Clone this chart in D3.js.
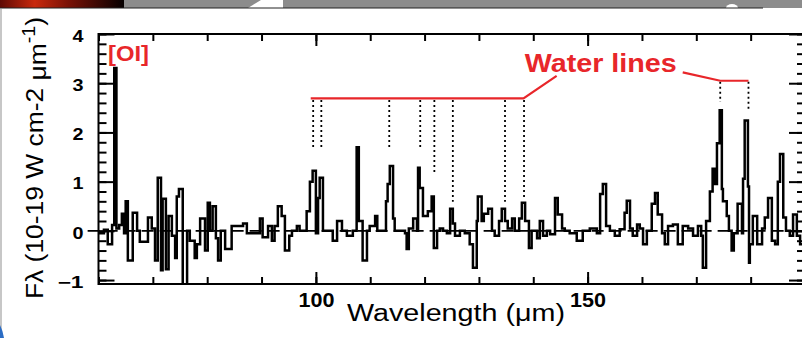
<!DOCTYPE html>
<html><head><meta charset="utf-8">
<script src="https://cdn.jsdelivr.net/npm/d3@7"></script>
<style>html,body{margin:0;padding:0;background:#fff;overflow:hidden}</style>
</head><body><svg id="c" width="802" height="338"></svg>
<script>
// ---------- data ----------
const xDomain = [60, 190];
const yDomain = [-1.08, 4];
const xMajorTicks = [100, 150];
const xMajorLabels = ["100", "150"];
const xMinorTicks = [60, 70, 80, 90, 100, 110, 120, 130, 140, 150, 160, 170, 180, 190];
const yMajorTicks = [-1, 0, 1, 2, 3, 4];
const yMajorLabels = ["\u22121", "0", "1", "2", "3", "4"];

const waterLinesLeft = [99.5, 101.0, 113.5, 119.2, 121.8, 125.2, 134.8, 138.3];
const waterLeftBottom = [1.68, 1.68, 1.68, 1.68, 1.18, 0.59, 0.59, 0.69];
const waterLinesRight = [174.4, 179.6];
const waterRightBottom = [2.62, 2.46];

const spectrumWave = [60.0,61.0,61.7,62.5,62.9,63.3,63.8,64.3,64.7,65.0,65.4,66.3,67.1,67.6,69.1,69.8,70.4,70.9,71.5,71.8,72.4,72.9,73.5,74.1,74.4,74.8,75.5,76.3,76.8,77.7,78.1,78.7,79.6,80.1,80.5,81.0,81.6,82.0,82.5,83.3,84.5,86.6,87.3,89.7,90.2,91.2,91.9,92.4,93.0,93.7,94.3,95.1,95.6,96.5,97.0,98.3,98.9,99.4,100.0,100.4,100.7,101.3,103.1,103.9,104.8,105.7,106.8,107.5,107.9,108.6,109.4,109.9,110.9,111.3,112.9,113.2,113.6,114.2,114.5,116.4,116.7,117.1,117.9,118.6,118.8,119.1,119.7,120.6,121.3,121.7,122.3,122.8,123.4,124.1,124.7,125.2,125.6,126.5,127.4,128.3,128.9,129.6,129.8,130.5,130.9,131.7,132.4,132.9,133.7,134.2,134.8,135.3,136.1,136.6,137.4,137.9,138.5,139.2,139.7,140.7,141.2,141.8,142.5,143.1,144.0,144.5,145.3,145.8,146.7,148.0,149.1,150.4,151.7,152.3,152.8,153.4,154.1,155.0,155.9,156.8,157.2,157.8,158.3,159.1,159.6,160.2,160.9,161.8,162.4,162.9,163.7,164.2,164.8,165.7,166.6,167.5,168.5,169.4,170.3,170.9,171.2,171.8,172.5,173.0,173.4,173.8,174.3,174.7,174.9,175.6,176.0,176.5,176.9,177.6,178.4,178.6,178.9,179.5,179.7,179.85,180.4,181.2,182.1,182.6,183.2,183.9,184.5,185.0,185.4,186.0,186.5,187.2,187.8,188.5,189.1,190.0];
const spectrumFlux = [-0.05,0.02,-0.27,0.12,3.31,0.05,0.12,0.35,-0.05,0.6,-0.6,0.37,0.0,-0.22,0.27,0.05,-0.6,1.08,-0.8,0.65,-0.78,0.3,-0.1,-0.55,0.7,0.85,-1.4,0.0,-0.2,-0.55,-0.27,0.25,-0.4,0.57,0.0,0.5,-0.15,-0.6,0.0,-0.37,0.1,0.15,-0.05,0.25,-0.13,0.1,-0.2,0.1,0.5,0.3,-0.4,-0.1,0.0,0.1,0.0,0.4,1.0,1.22,-0.05,0.67,1.08,0.0,-0.2,0.2,0.0,-0.1,0.0,1.7,0.2,-0.6,0.0,0.1,0.3,0.0,0.6,0.95,1.32,0.25,0.0,-0.05,-0.37,0.05,0.25,0.0,1.28,0.87,0.3,0.4,0.7,-0.35,0.0,0.05,0.0,-0.05,0.45,0.15,-0.1,0.0,-0.05,-0.27,-0.75,0.2,0.7,0.2,0.35,0.45,0.0,-0.1,0.2,0.45,0.2,0.05,0.25,0.0,0.25,0.57,0.2,-0.35,0.0,-0.15,0.2,-0.1,0.0,-0.07,0.67,0.33,0.05,0.0,-0.05,-0.2,0.0,0.05,-0.05,0.75,0.95,0.1,0.0,-0.1,0.03,0.37,0.61,0.05,-0.1,0.13,0.05,-0.27,0.0,0.55,0.77,0.33,-0.05,-0.27,0.1,0.13,-0.27,0.1,0.05,-0.1,0.1,-0.1,-0.75,0.2,0.8,1.26,0.95,1.78,2.45,0.85,0.6,0.3,0.0,-0.4,-0.05,0.55,-0.05,1.06,2.24,0.9,-0.65,-0.27,0.3,-0.27,0.05,0.27,0.67,-0.2,-0.27,1.0,1.56,0.27,0.0,-0.1,0.33,-0.1,-0.27,-0.27];

// ---------- layout ----------
const L = 98.5, R = 805, T = 34, B = 284;
const RED = "#e8262a";
const FONT = "'Liberation Sans', Arial, Helvetica, sans-serif";

const svg = d3.select("#c");
const x = d3.scaleLinear().domain(xDomain).range([L, R]);
const y = d3.scaleLinear().domain(yDomain).range([B, T]);

// slide background pieces
const defs = svg.append("defs");
const g1 = defs.append("linearGradient").attr("id", "rg");
[["0%", "#5e0a04"], ["28%", "#c9290d"], ["55%", "#7a1206"], ["100%", "#050000"]]
  .forEach(s => g1.append("stop").attr("offset", s[0]).attr("stop-color", s[1]));
svg.append("rect").attr("x", 0).attr("y", 0).attr("width", 802).attr("height", 8).attr("fill", "#8c8c8c");
svg.append("rect").attr("x", 0).attr("y", 0).attr("width", 124).attr("height", 8).attr("fill", "url(#rg)");
svg.append("path").attr("d", "M248,8 L261,0 L283,0 L283,8 Z").attr("fill", "#fff");
svg.append("ellipse").attr("cx", 732).attr("cy", 8).attr("rx", 6).attr("ry", 4).attr("fill", "#fff");
svg.append("line").attr("x1", 0).attr("x2", 763).attr("y1", 8).attr("y2", 8).attr("stroke", "#222").attr("stroke-width", 1);
svg.append("line").attr("x1", 1).attr("x2", 1).attr("y1", 9).attr("y2", 338).attr("stroke", "#b4b4b4").attr("stroke-width", 1.5);
svg.append("path").attr("d", "M0,325 Q3,331 4,338 L0,338 Z").attr("fill", "#2b6cc4");

defs.append("clipPath").attr("id", "plotclip").append("rect")
  .attr("x", L).attr("y", T).attr("width", R - L).attr("height", B - T);

// zero dashed line
svg.append("line")
  .attr("x1", x(58)).attr("x2", x(190)).attr("y1", y(0)).attr("y2", y(0))
  .attr("stroke", "#000").attr("stroke-width", 1.6).attr("stroke-dasharray", "12,6");

// spectrum
const pts = spectrumWave.map((w, i) => [w, spectrumFlux[i]]);
svg.append("path")
  .attr("clip-path", "url(#plotclip)")
  .attr("d", d3.line().x(d => x(d[0])).y(d => y(d[1])).curve(d3.curveStepAfter)(pts))
  .attr("fill", "none").attr("stroke", "#000").attr("stroke-width", 2.5).attr("stroke-linejoin", "miter");

// axes helper
function styleAxis(g) {
  g.select(".domain").remove();
  g.selectAll(".tick line").attr("stroke", "#000").attr("stroke-width", 2);
}
const yMinor = y.ticks(26).filter(v => v >= -1 && v <= 4);
// bottom
svg.append("g").attr("transform", `translate(0,${B})`)
  .call(d3.axisBottom(x).tickValues(xMinorTicks).tickSize(-7).tickSizeOuter(0).tickFormat("")).call(styleAxis);
const bx = svg.append("g").attr("transform", `translate(0,${B})`)
  .call(d3.axisBottom(x).tickValues(xMajorTicks).tickSize(-12).tickSizeOuter(0).tickPadding(9)
    .tickFormat((d, i) => xMajorLabels[i])).call(styleAxis);
bx.selectAll("text").attr("font-family", FONT).attr("font-weight", "bold").attr("font-size", 19.5)
  .attr("fill", "#000").attr("textLength", 36).attr("lengthAdjust", "spacingAndGlyphs");
// top
svg.append("g").attr("transform", `translate(0,${T})`)
  .call(d3.axisTop(x).tickValues(xMinorTicks).tickSize(-7).tickSizeOuter(0).tickFormat("")).call(styleAxis);
svg.append("g").attr("transform", `translate(0,${T})`)
  .call(d3.axisTop(x).tickValues(xMajorTicks).tickSize(-12).tickSizeOuter(0).tickFormat("")).call(styleAxis);
// left
svg.append("g").attr("transform", `translate(${L},0)`)
  .call(d3.axisLeft(y).tickValues(yMinor).tickSize(-8).tickSizeOuter(0).tickFormat("")).call(styleAxis);
const ly = svg.append("g").attr("transform", `translate(${L},0)`)
  .call(d3.axisLeft(y).tickValues(yMajorTicks).tickSize(-16).tickSizeOuter(0).tickPadding(15)
    .tickFormat((d, i) => yMajorLabels[i])).call(styleAxis);
ly.selectAll("text").attr("font-family", FONT).attr("font-weight", "bold").attr("font-size", 16)
  .attr("fill", "#000").attr("dy", "0.45em")
  .each(function (d) { d3.select(this).attr("textLength", d === -1 ? 26 : 11).attr("lengthAdjust", "spacingAndGlyphs"); });
// right
svg.append("g").attr("transform", `translate(${R},0)`)
  .call(d3.axisRight(y).tickValues(yMinor).tickSize(-8).tickSizeOuter(0).tickFormat("")).call(styleAxis);
svg.append("g").attr("transform", `translate(${R},0)`)
  .call(d3.axisRight(y).tickValues(yMajorTicks).tickSize(-16).tickSizeOuter(0).tickFormat("")).call(styleAxis);

// frame
svg.append("rect").attr("x", L).attr("y", T).attr("width", R - L).attr("height", B - T)
  .attr("fill", "none").attr("stroke", "#000").attr("stroke-width", 2);

// water line markers (dotted)
const dotted = (w, top, bot) => svg.append("line")
  .attr("x1", x(w)).attr("x2", x(w)).attr("y1", y(top)).attr("y2", y(bot))
  .attr("stroke", "#000").attr("stroke-width", 1.8).attr("stroke-dasharray", "2,3");
waterLinesLeft.forEach((w, i) => dotted(w, 2.66, waterLeftBottom[i]));
waterLinesRight.forEach((w, i) => dotted(w, 3.03, waterRightBottom[i]));

// red annotation brackets
const redLine = d3.line().x(d => x(d[0])).y(d => y(d[1]));
svg.append("path").attr("d", redLine([[99.05, 2.69], [138.2, 2.69], [144.3, 3.15]]))
  .attr("fill", "none").attr("stroke", RED).attr("stroke-width", 2.2);
svg.append("path").attr("d", redLine([[167.5, 3.22], [174.4, 3.05], [179.6, 3.05]]))
  .attr("fill", "none").attr("stroke", RED).attr("stroke-width", 2.2);

svg.append("text").attr("x", x(152.4)).attr("y", y(3.23)).attr("text-anchor", "middle")
  .attr("font-family", FONT).attr("font-weight", "bold").attr("font-size", 26).attr("fill", RED)
  .attr("textLength", 152).attr("lengthAdjust", "spacingAndGlyphs").text("Water lines");
svg.append("text").attr("x", x(61.75)).attr("y", y(3.45))
  .attr("font-family", FONT).attr("font-weight", "bold").attr("font-size", 22).attr("fill", RED)
  .attr("textLength", 41).attr("lengthAdjust", "spacingAndGlyphs").text("[OI]");

// axis titles
svg.append("text").attr("x", 456).attr("y", 321).attr("text-anchor", "middle")
  .attr("font-family", FONT).attr("font-size", 23.5).attr("fill", "#000")
  .attr("textLength", 218).attr("lengthAdjust", "spacingAndGlyphs").text("Wavelength (\u03bcm)");

const yt = svg.append("text").attr("transform", "translate(43,158) rotate(-90) scale(1.1,1)")
  .attr("text-anchor", "middle").attr("font-family", FONT).attr("font-size", 24).attr("fill", "#000");
yt.append("tspan").text("F\u03bb (10-19 W cm-2 ");
yt.append("tspan").attr("dy", 3).text("\u03bcm");
yt.append("tspan").attr("dy", -11).attr("font-size", 18).text("-1");
yt.append("tspan").attr("dy", 8).text(")");
</script></body></html>
